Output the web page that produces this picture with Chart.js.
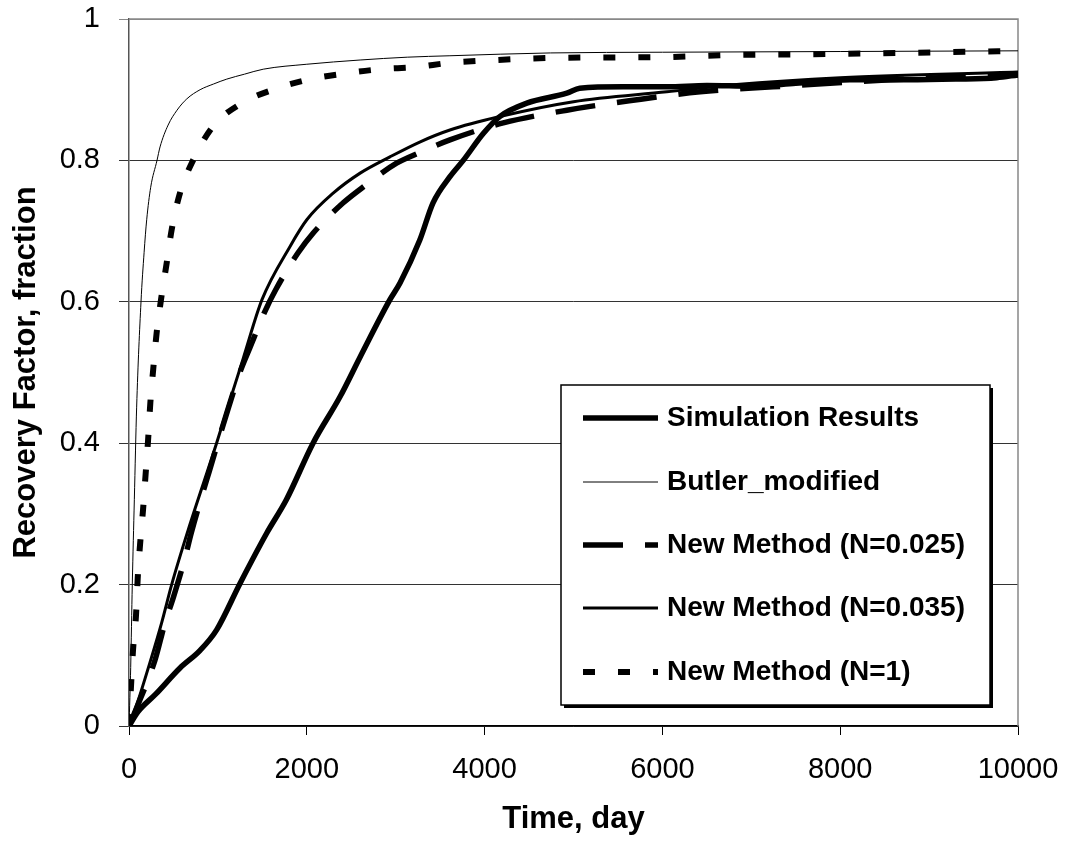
<!DOCTYPE html>
<html>
<head>
<meta charset="utf-8">
<script src="https://cdn.jsdelivr.net/npm/chart.js@4/dist/chart.umd.min.js"></script>
<style>
  html, body { margin: 0; padding: 0; background: #fff; }
  #wrap { width: 1072px; height: 848px; }
</style>
</head>
<body>
<div id="wrap"><canvas id="chart" width="1072" height="848"></canvas></div>
<script>
// ---- data (time in days, recovery factor as fraction) ----
const simT  = [0, 100, 300, 574, 800, 986, 1250, 1550, 1770, 2070, 2375, 2600, 2935, 3050, 3270, 3420, 3610, 3760, 3985, 4170, 4475, 4925, 5070, 5560, 6050, 6500, 7000, 7500, 8110, 8750, 9300, 9760, 10000];
const simRF = [0, 0.02, 0.045, 0.082, 0.107, 0.136, 0.202, 0.273, 0.32, 0.4, 0.466, 0.522, 0.603, 0.627, 0.687, 0.74, 0.777, 0.8, 0.838, 0.862, 0.881, 0.895, 0.902, 0.904, 0.904, 0.906, 0.905, 0.909, 0.914, 0.914, 0.915, 0.917, 0.921];

const butT  = [0, 10, 19, 37, 60, 86, 135, 170, 199, 244, 315, 349, 440, 540, 650, 800, 950, 1100, 1300, 1510, 2000, 2600, 3130, 3610, 4740, 6000, 8000, 10000];
const butRF = [0, 0.04, 0.083, 0.2, 0.32, 0.451, 0.6, 0.67, 0.716, 0.762, 0.8, 0.819, 0.85, 0.871, 0.887, 0.9, 0.908, 0.915, 0.922, 0.929, 0.936, 0.942, 0.946, 0.948, 0.952, 0.953, 0.954, 0.955];

const n025T  = [0, 100, 292, 405, 499, 630, 700, 830, 900, 1030, 1118, 1250, 1360, 1520, 1650, 1900, 2070, 2410, 2620, 3010, 3250, 3610, 4210, 4925, 5670, 6425, 7245, 8560, 10000];
const n025RF = [0, 0.03, 0.093, 0.146, 0.182, 0.238, 0.273, 0.33, 0.359, 0.414, 0.45, 0.501, 0.535, 0.584, 0.617, 0.669, 0.697, 0.74, 0.761, 0.796, 0.81, 0.829, 0.853, 0.871, 0.885, 0.897, 0.904, 0.914, 0.921];

const n035T  = [0, 100, 236, 367, 480, 665, 985, 1099, 1285, 1496, 1810, 2000, 2300, 2600, 2935, 3270, 3610, 4170, 5000, 6050, 6800, 8000, 10000];
const n035RF = [0, 0.035, 0.09, 0.146, 0.2, 0.277, 0.4, 0.446, 0.52, 0.603, 0.678, 0.716, 0.754, 0.782, 0.805, 0.826, 0.843, 0.862, 0.883, 0.897, 0.907, 0.917, 0.925];

const n1T  = [0, 20, 45, 79, 98, 124, 158, 188, 215, 240, 272, 311, 360, 424, 480, 574, 720, 945, 1270, 1620, 2040, 2430, 2825, 3220, 3610, 3980, 4790, 5970, 6760, 7550, 8750, 10000];
const n1RF = [0, 0.05, 0.107, 0.157, 0.209, 0.256, 0.306, 0.358, 0.405, 0.457, 0.504, 0.556, 0.603, 0.655, 0.702, 0.754, 0.8, 0.848, 0.881, 0.9, 0.915, 0.923, 0.929, 0.932, 0.938, 0.941, 0.945, 0.946, 0.949, 0.95, 0.952, 0.955];

const seriesNames = ["Simulation Results", "Butler_modified", "New Method (N=0.025)", "New Method (N=0.035)", "New Method (N=1)"];
const xTicks = [0, 2000, 4000, 6000, 8000, 10000];
const yTicks = [0, 0.2, 0.4, 0.6, 0.8, 1];

const FONT = "'Liberation Sans', Arial, sans-serif";
const pts = (t, rf) => t.map((v, i) => ({ x: v, y: rf[i] }));

function line(label, t, rf, width, dash){
  return {
    label, data: pts(t, rf),
    borderColor: "#000", backgroundColor: "#000",
    borderWidth: width, borderDash: dash || [],
    borderCapStyle: "butt", borderJoinStyle: "round",
    pointRadius: 0, showLine: true, fill: false,
    cubicInterpolationMode: "monotone",
  };
}

// legend box drawn inside the plot, Excel style
const boxLegend = {
  id: "boxLegend",
  afterDraw(chart){
    const ctx = chart.ctx;
    const L = 561, T = 385, R = 990, B = 705;
    ctx.save();
    ctx.fillStyle = "#000";
    ctx.fillRect(L + 3, B, R - L, 3);
    ctx.fillRect(R, T + 3, 3, B - T);
    ctx.fillStyle = "#fff";
    ctx.fillRect(L, T, R - L, B - T);
    ctx.strokeStyle = "#000";
    ctx.lineWidth = 1.5;
    ctx.strokeRect(L, T, R - L, B - T);
    const rows = [418, 482, 545, 608, 672];
    ctx.font = "bold 28px " + FONT;
    ctx.textBaseline = "middle";
    chart.data.datasets.forEach((ds, i) => {
      const y = rows[i];
      ctx.beginPath();
      ctx.strokeStyle = "#000";
      ctx.lineWidth = ds.borderWidth;
      ctx.lineCap = "butt";
      ctx.setLineDash(ds.borderDash || []);
      ctx.moveTo(583, y);
      ctx.lineTo(658, y);
      ctx.stroke();
      ctx.setLineDash([]);
      ctx.fillStyle = "#000";
      ctx.fillText(ds.label, 667, y);
    });
    ctx.restore();
  }
};

// gray frame on top and right of the plot area
const frame = {
  id: "frame",
  beforeDatasetsDraw(chart){
    const { ctx, chartArea: a } = chart;
    ctx.save();
    ctx.strokeStyle = "#888";
    ctx.lineWidth = 1.5;
    ctx.beginPath();
    ctx.moveTo(a.left, a.top);
    ctx.lineTo(a.right, a.top);
    ctx.lineTo(a.right, a.bottom);
    ctx.stroke();
    ctx.restore();
  }
};

new Chart(document.getElementById("chart"), {
  type: "scatter",
  data: {
    datasets: [
      line(seriesNames[0], simT, simRF, 5.5),
      line(seriesNames[1], butT, butRF, 1),
      line(seriesNames[2], n025T, n025RF, 5.5, [40, 22]),
      line(seriesNames[3], n035T, n035RF, 3),
      line(seriesNames[4], n1T, n1RF, 6, [12, 23]),
    ]
  },
  options: {
    responsive: false,
    animation: false,
    layout: { padding: { top: 19, right: 54, left: 0, bottom: 0 } },
    plugins: { legend: { display: false }, tooltip: { enabled: false } },
    scales: {
      x: {
        type: "linear", min: 0, max: 10000,
        afterFit: (s) => { s.height = 122; s.paddingLeft = 0; s.paddingRight = 0; },
        afterBuildTicks: (s) => { s.ticks = xTicks.map(v => ({ value: v })); },
        ticks: { color: "#000", font: { family: FONT, size: 29 }, padding: 18, maxRotation: 0,
                 callback: (v) => String(v) },
        grid: { drawOnChartArea: false, drawTicks: true, tickLength: 9, color: "#000", lineWidth: 1 },
        border: { display: true, color: "#000", width: 1.5 },
        title: { display: true, text: "Time, day", color: "#000", font: { family: FONT, size: 31, weight: "bold" }, padding: { top: 0, bottom: 10 } },
      },
      y: {
        type: "linear", min: 0, max: 1,
        afterFit: (s) => { s.width = 129; s.paddingTop = 0; s.paddingBottom = 0; },
        afterBuildTicks: (s) => { s.ticks = yTicks.map(v => ({ value: v })); },
        ticks: { color: "#000", font: { family: FONT, size: 29 }, padding: 19,
                 callback: (v) => String(Number(v.toFixed(1))) },
        grid: { drawTicks: true, tickLength: 10, lineWidth: 1,
                color: (c) => (c.tick && c.tick.value === 1 ? "#888" : "#333") },
        border: { display: true, color: "#555", width: 1.5 },
        title: { display: true, text: "Recovery Factor, fraction", color: "#000", font: { family: FONT, size: 31, weight: "bold" }, padding: { top: 8, bottom: 0 } },
      }
    }
  },
  plugins: [frame, boxLegend]
});
</script>
</body>
</html>
